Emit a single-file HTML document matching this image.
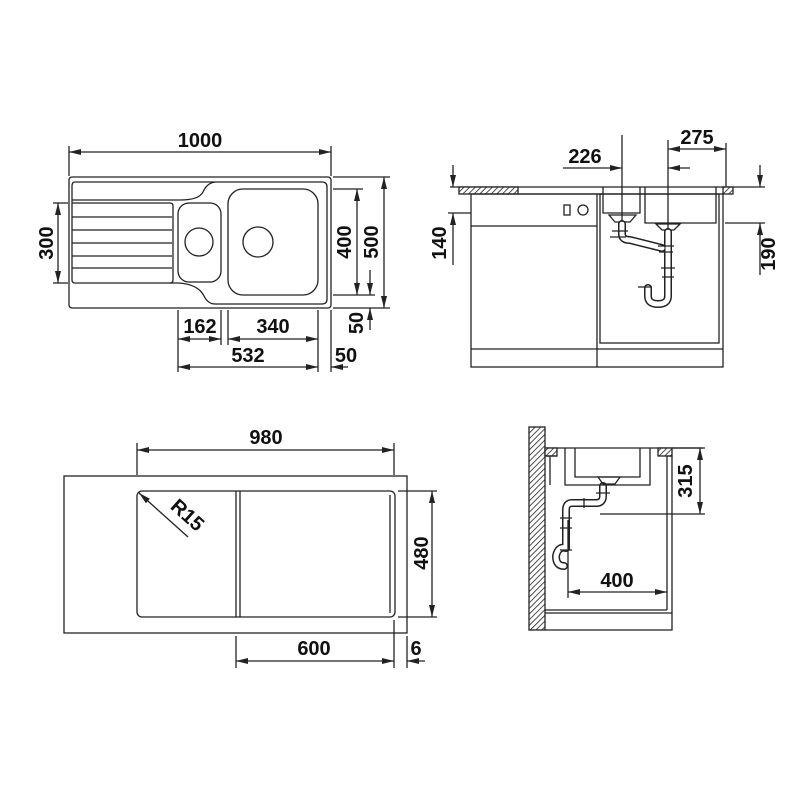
<!DOCTYPE html>
<html><head><meta charset="utf-8"><style>html,body{margin:0;background:#fff}svg{display:block}</style></head>
<body>
<svg width="800" height="800" viewBox="0 0 800 800" xmlns="http://www.w3.org/2000/svg">
<defs>
<pattern id="h" width="4" height="4" patternUnits="userSpaceOnUse" patternTransform="rotate(45)"><rect width="4" height="4" fill="#fff"/><line x1="0" y1="0" x2="0" y2="4" stroke="#222" stroke-width="1.6"/></pattern>
<marker id="a" markerWidth="12" markerHeight="6" refX="12" refY="3" orient="auto-start-reverse" markerUnits="userSpaceOnUse"><path d="M0,0 L12,3 L0,6 z" fill="#222"/></marker>
</defs>
<g fill="none" stroke="#222" stroke-width="1.3">
<!-- TOP LEFT -->
<line x1="69" y1="146" x2="69" y2="176"/><line x1="331" y1="146" x2="331" y2="176"/>
<line x1="69" y1="152" x2="331" y2="152" marker-start="url(#a)" marker-end="url(#a)"/>
<rect x="69" y="177" width="262" height="131" rx="3"/>
<path d="M75,182 H322 Q327,182 327,187 V299 Q327,304 322,304 H215 Q208,304 204,296 Q198,284 178,283 L75,283 Q72,283 72,280 V186 Q72,182 75,182 Z"/>
<path d="M215,182 Q207,183 203,192 Q199,200 180,200 H72"/>
<path d="M72,203 H170 Q173,203 173,206 V280 Q173,283 170,283"/>
<path d="M72,217 H172 M72,230 H172 M72,243 H172 M72,256 H172 M72,268 H172"/>
<rect x="178" y="203" width="43" height="79" rx="11"/>
<circle cx="199" cy="242" r="14"/>
<rect x="228" y="189" width="90" height="106" rx="15"/>
<circle cx="258" cy="242" r="15"/>
<line x1="53" y1="203" x2="68" y2="203"/><line x1="53" y1="283" x2="68" y2="283"/>
<line x1="58" y1="203" x2="58" y2="283" marker-start="url(#a)" marker-end="url(#a)"/>
<line x1="333" y1="189" x2="363" y2="189"/><line x1="333" y1="295" x2="375" y2="295"/>
<line x1="357" y1="189" x2="357" y2="295" marker-start="url(#a)" marker-end="url(#a)"/>
<line x1="333" y1="177" x2="390" y2="177"/><line x1="333" y1="308" x2="390" y2="308"/>
<line x1="384" y1="177" x2="384" y2="308" marker-start="url(#a)" marker-end="url(#a)"/>
<line x1="370" y1="270" x2="370" y2="295" marker-end="url(#a)"/>
<line x1="370" y1="330" x2="370" y2="308" marker-end="url(#a)"/>
<line x1="178" y1="310" x2="178" y2="372"/><line x1="221" y1="310" x2="221" y2="345"/>
<line x1="228" y1="310" x2="228" y2="345"/><line x1="318" y1="310" x2="318" y2="372"/>
<line x1="331" y1="310" x2="331" y2="372"/>
<line x1="178" y1="339" x2="221" y2="339" marker-start="url(#a)" marker-end="url(#a)"/>
<line x1="228" y1="339" x2="318" y2="339" marker-start="url(#a)" marker-end="url(#a)"/>
<line x1="178" y1="367" x2="318" y2="367" marker-start="url(#a)" marker-end="url(#a)"/>
<line x1="331" y1="367" x2="348" y2="367" marker-start="url(#a)"/>
<!-- TOP RIGHT -->
<line x1="450" y1="187" x2="765" y2="187"/>
<rect x="459" y="187" width="59" height="7" fill="url(#h)"/>
<rect x="723" y="187" width="10" height="7" fill="url(#h)"/>
<line x1="518" y1="194" x2="603" y2="194"/>
<rect x="471" y="194" width="252" height="173"/>
<line x1="597" y1="194" x2="597" y2="367"/>
<line x1="471" y1="226" x2="597" y2="226"/>
<line x1="471" y1="349" x2="723" y2="349"/>
<rect x="600" y="194" width="119" height="149"/>
<rect x="564" y="205" width="6" height="10"/><circle cx="583" cy="210" r="5"/>
<path d="M603,187 V213 H640 V187 M645,187 V223 H716 V187"/>
<path d="M609,215 H636 L630,222 H615 Z M656,224 H680 L674,230 H662 Z"/>
</g>
<g fill="none" stroke-linecap="round" stroke-linejoin="round">
<path d="M622,224 V234 Q622,240 630,240 L662,248 M668,232 V296 Q668,304 658,304 Q648,304 648,296 V288" stroke="#222" stroke-width="8"/>
<path d="M622,224 V234 Q622,240 630,240 L662,248 M668,232 V296 Q668,304 658,304 Q648,304 648,296 V288" stroke="#fff" stroke-width="5"/>
<path d="M603,486 V496 Q603,503 596,503 H572 Q566,503 566,510 V548 M566,548 Q558,546 556,556 Q556,566 564,566" stroke="#222" stroke-width="8"/>
<path d="M603,486 V496 Q603,503 596,503 H572 Q566,503 566,510 V548 M566,548 Q558,546 556,556 Q556,566 564,566" stroke="#fff" stroke-width="5"/>
</g>
<g fill="none" stroke="#222" stroke-width="1.3">
<path d="M612,231 H628 M610,237 H626 M658,246 H674 M659,252 H673 M661,268 H675 M662,277 H674 M638,287 H652"/>
<line x1="622" y1="135" x2="622" y2="222"/><line x1="668" y1="140" x2="668" y2="230"/>
<line x1="563" y1="168" x2="622" y2="168" marker-end="url(#a)"/>
<line x1="690" y1="168" x2="668" y2="168" marker-end="url(#a)"/>
<line x1="726" y1="143" x2="726" y2="187"/>
<line x1="668" y1="149" x2="726" y2="149" marker-start="url(#a)" marker-end="url(#a)"/>
<line x1="448" y1="213" x2="471" y2="213"/>
<line x1="453" y1="165" x2="453" y2="187" marker-end="url(#a)"/>
<line x1="453" y1="265" x2="453" y2="213" marker-end="url(#a)"/>
<line x1="725" y1="223" x2="765" y2="223"/>
<line x1="760" y1="165" x2="760" y2="187" marker-end="url(#a)"/>
<line x1="760" y1="275" x2="760" y2="223" marker-end="url(#a)"/>
<!-- BOTTOM LEFT -->
<line x1="137" y1="443" x2="137" y2="475"/><line x1="394" y1="443" x2="394" y2="475"/>
<line x1="137" y1="450" x2="394" y2="450" marker-start="url(#a)" marker-end="url(#a)"/>
<rect x="64" y="476" width="343" height="157"/>
<rect x="137" y="491" width="258" height="126" rx="5"/>
<line x1="236" y1="491" x2="236" y2="617"/><line x1="240" y1="491" x2="240" y2="617"/>
<line x1="390" y1="495" x2="390" y2="613"/>
<line x1="188" y1="537" x2="139" y2="493" marker-end="url(#a)"/>
<line x1="398" y1="491" x2="437" y2="491"/><line x1="398" y1="617" x2="437" y2="617"/>
<line x1="432" y1="491" x2="432" y2="617" marker-start="url(#a)" marker-end="url(#a)"/>
<line x1="236" y1="636" x2="236" y2="668"/><line x1="394" y1="620" x2="394" y2="668"/><line x1="407" y1="636" x2="407" y2="668"/>
<line x1="236" y1="661" x2="394" y2="661" marker-start="url(#a)" marker-end="url(#a)"/>
<line x1="425" y1="661" x2="407" y2="661" marker-end="url(#a)"/>
<!-- BOTTOM RIGHT -->
<rect x="529" y="427" width="16" height="203" fill="url(#h)"/>
<line x1="545" y1="448" x2="703" y2="448"/>
<rect x="545" y="448" width="12" height="8" fill="url(#h)"/>
<rect x="658" y="448" width="14" height="8" fill="url(#h)"/>
<path d="M545,456 H557 M672,456 V613 M667,456 V610 M550,456 V485 M667,456 H672"/>
<path d="M545,610 H667 M545,613 H672 V630 H545"/>
<path d="M565,448 V485 H650 V448 M575,448 V477 H640 V448"/>
<path d="M598,477 H620 L615,484 H603 Z"/>
<path d="M596,493 H610 M584,498 V508 M560,518 H572 M560,528 H572 M560,550 H572"/>
<line x1="600" y1="514" x2="705" y2="514"/><line x1="672" y1="448" x2="705" y2="448"/>
<line x1="700" y1="448" x2="700" y2="514" marker-start="url(#a)" marker-end="url(#a)"/>
<line x1="568" y1="520" x2="568" y2="598"/>
<line x1="568" y1="592" x2="667" y2="592" marker-start="url(#a)" marker-end="url(#a)"/>
</g>
<g font-family="Liberation Sans, sans-serif" font-weight="bold" font-size="20" fill="#111" text-anchor="middle">
<text x="200" y="147">1000</text>
<text x="200" y="333">162</text>
<text x="273" y="333">340</text>
<text x="248" y="362">532</text>
<text x="346" y="362">50</text>
<text transform="translate(53,243) rotate(-90)">300</text>
<text transform="translate(351,242) rotate(-90)">400</text>
<text transform="translate(378,242) rotate(-90)">500</text>
<text transform="translate(363,323) rotate(-90)">50</text>
<text x="585" y="163">226</text>
<text x="697" y="144">275</text>
<text transform="translate(446,243) rotate(-90)">140</text>
<text transform="translate(775,254) rotate(-90)">190</text>
<text x="266" y="444">980</text>
<text transform="translate(183,520) rotate(42)">R15</text>
<text transform="translate(428,553) rotate(-90)">480</text>
<text x="314" y="655">600</text>
<text x="416" y="655">6</text>
<text transform="translate(692,481) rotate(-90)">315</text>
<text x="617" y="587">400</text>
</g>
</svg>
</body></html>
